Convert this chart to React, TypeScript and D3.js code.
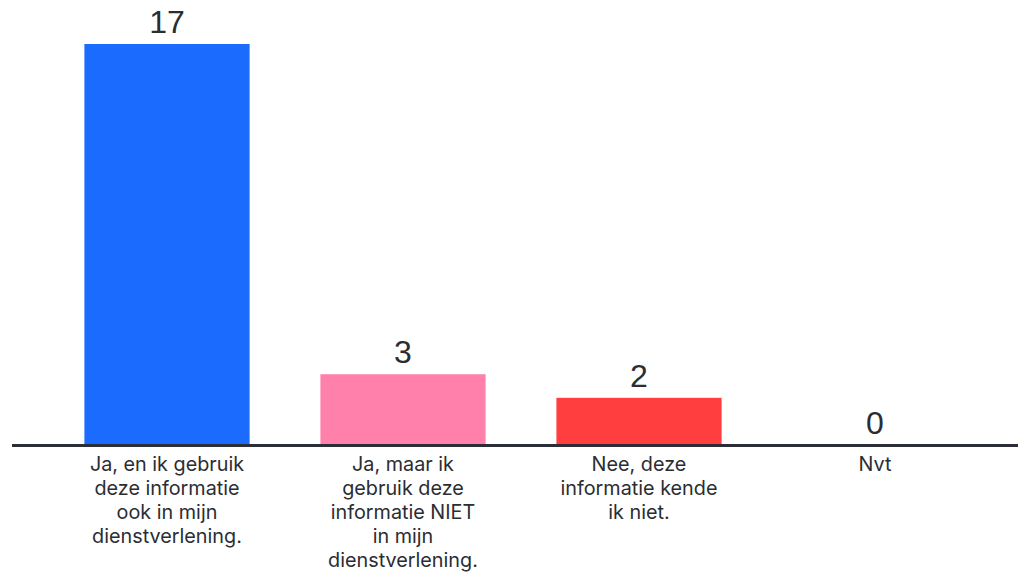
import React from "react";
import * as d3 from "d3";

const categories = ["c1", "c2", "c3", "c4"];
const labelLines = [
  ["Ja, en ik gebruik", "deze informatie", "ook in mijn", "dienstverlening."],
  ["Ja, maar ik", "gebruik deze", "informatie NIET", "in mijn", "dienstverlening."],
  ["Nee, deze", "informatie kende", "ik niet."],
  ["Nvt"],
];
const values = [17, 3, 2, 0];
const colors = ["#1b6bff", "#ff80ab", "#ff3f3f", "#cccccc"];

export default function App() {
  const W = 1018;
  const H = 573;
  const baseY = 445;
  const x = d3.scaleBand<string>().domain(categories).range([49, 993]).paddingInner(0.3).paddingOuter(0.15);
  const y = d3.scaleLinear().domain([0, 17]).range([baseY, 44]);
  return (
    <svg width={W} height={H} style={{ position: "absolute", left: 0, top: 0, background: "#fff" }}>
      {categories.map((c, i) => {
        const bx = x(c)!;
        const cx = bx + x.bandwidth() / 2;
        return (
          <g key={c}>
            {values[i] > 0 && (
              <rect x={bx} y={y(values[i])} width={x.bandwidth()} height={baseY - y(values[i])} fill={colors[i]} />
            )}
            <text x={cx} y={y(values[i]) - 11} textAnchor="middle" fontFamily="Liberation Sans, Arial, sans-serif" fontSize={32} fill="#2b2d33">
              {values[i]}
            </text>
            {labelLines[i].map((l, j) => (
              <text key={j} x={cx} y={471 + j * 24} textAnchor="middle" fontFamily="Inter, sans-serif" fontSize={19.8} fill="#2b2d33">
                {l}
              </text>
            ))}
          </g>
        );
      })}
      <line x1={12} x2={1018} y1={baseY + 0.5} y2={baseY + 0.5} stroke="#2b2e36" strokeWidth={3} />
    </svg>
  );
}
